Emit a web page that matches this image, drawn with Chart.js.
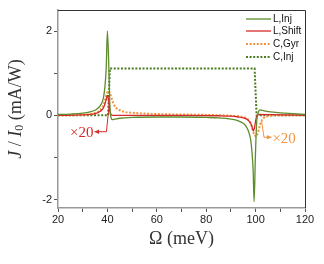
<!DOCTYPE html>
<html>
<head>
<meta charset="utf-8">
<script src="https://cdn.jsdelivr.net/npm/chart.js@4.4.0/dist/chart.umd.min.js"></script>
<style>
  html, body { margin: 0; padding: 0; background: #fff; }
  #wrap { width: 324px; height: 264px; }
</style>
</head>
<body>
<div id="wrap"><canvas id="chart"></canvas></div>
<script>
// Values (x in meV, y in mA/W)
const lInjX = [20, 25, 30, 33, 35, 36, 37, 38, 38.5, 39, 39.5, 40, 40.5, 41, 41.5, 42, 43, 45, 50, 60, 70, 80, 85, 90, 93, 95, 96, 97, 98, 98.5, 99, 99.4, 99.9, 100.4, 101, 101.8, 102.5, 104, 106, 110, 115, 120];
const lInjY = [0.02, 0.03, 0.05, 0.08, 0.12, 0.16, 0.22, 0.33, 0.45, 0.68, 1.1, 2.0, 1.3, 0.25, -0.06, -0.1, -0.09, -0.07, -0.05, -0.04, -0.04, -0.05, -0.06, -0.09, -0.13, -0.19, -0.25, -0.36, -0.58, -0.85, -1.3, -2.05, -1.0, -0.2, 0.05, 0.13, 0.12, 0.1, 0.08, 0.06, 0.04, 0.02];

const lShiftX = [20, 30, 34, 36, 37, 38, 38.5, 39, 39.5, 40, 40.5, 41, 41.5, 42, 50, 70, 85, 90, 93, 95, 96, 97, 98, 98.5, 99.1, 99.6, 100.1, 100.6, 101.2, 110, 120];
const lShiftY = [0.0, 0.01, 0.03, 0.06, 0.09, 0.14, 0.19, 0.27, 0.37, 0.47, 0.36, 0.1, 0.02, 0.0, 0.0, 0.0, -0.01, -0.02, -0.04, -0.06, -0.08, -0.12, -0.19, -0.26, -0.37, -0.28, -0.1, 0.0, 0.02, 0.01, 0.0];

const cGyrX = [20, 30, 34, 36, 37, 38, 38.5, 39, 39.5, 40, 40.5, 41, 41.5, 42, 42.5, 43.5, 45, 47, 50, 60, 80, 90, 94, 96, 97, 98, 98.5, 99, 99.5, 100.1, 100.6, 101.2, 101.8, 102.5, 103.5, 105, 110, 120];
const cGyrY = [0.0, 0.01, 0.04, 0.08, 0.12, 0.19, 0.26, 0.35, 0.46, 0.55, 0.58, 0.53, 0.44, 0.35, 0.27, 0.18, 0.12, 0.08, 0.06, 0.03, 0.01, -0.01, -0.03, -0.06, -0.1, -0.19, -0.28, -0.38, -0.46, -0.5, -0.46, -0.36, -0.22, -0.12, -0.05, -0.02, 0.0, 0.0];

const cInjX = [20, 40.3, 41.0, 99.6, 100.4, 120];
const cInjY = [0.0, 0.0, 1.11, 1.11, 0.0, 0.0];

const xTicks = [20, 30, 40, 50, 60, 70, 80, 90, 100, 110, 120];
const xLabels = [20, 40, 60, 80, 100, 120];
const yTicks = [-2, -1, 0, 1, 2];
const yLabels = [-2, 0, 2];

const seriesNames = ['L,Inj', 'L,Shift', 'C,Gyr', 'C,Inj'];

const GREEN = '#5e8c2c';
const DKGREEN = '#4a7d1e';
const RED = '#d42a2a';
const ORANGE = '#f39440';

function toPoints(xs, ys) {
  return xs.map((x, i) => ({ x, y: ys[i] }));
}

// Legend drawn inside the plot, top right
const legendPlugin = {
  id: 'insideLegend',
  afterDatasetsDraw(chart) {
    const ctx = chart.ctx;
    const rows = [19, 31, 44, 57];
    ctx.save();
    ctx.font = '10px "Liberation Sans", Arial, sans-serif';
    ctx.textBaseline = 'middle';
    chart.data.datasets.forEach((ds, i) => {
      const y = rows[i];
      ctx.strokeStyle = ds.borderColor;
      ctx.lineWidth = ds.borderWidth;
      ctx.setLineDash(ds.borderDash || []);
      ctx.beginPath();
      ctx.moveTo(246, y);
      ctx.lineTo(271, y);
      ctx.stroke();
      ctx.setLineDash([]);
      ctx.fillStyle = '#111';
      ctx.fillText(ds.label, 273, y + 0.5);
    });
    ctx.restore();
  }
};

// "x20" callouts with arrows, anchored in data coordinates
const calloutPlugin = {
  id: 'callouts',
  afterDatasetsDraw(chart) {
    const { ctx, scales: { x, y } } = chart;
    const callouts = [
      { color: RED, path: [[40.8, 0.3], [39.6, -0.39], [34.8, -0.39]], text: '\u00d720', align: 'right' },
      { color: ORANGE, path: [[102.4, -0.13], [103.4, -0.52], [106.4, -0.52]], text: '\u00d720', align: 'left' }
    ];
    ctx.save();
    callouts.forEach(c => {
      const pts = c.path.map(p => [x.getPixelForValue(p[0]), y.getPixelForValue(p[1])]);
      ctx.strokeStyle = c.color;
      ctx.fillStyle = c.color;
      ctx.lineWidth = 1;
      ctx.beginPath();
      ctx.moveTo(pts[0][0], pts[0][1]);
      for (let i = 1; i < pts.length; i++) ctx.lineTo(pts[i][0], pts[i][1]);
      ctx.stroke();
      // arrow head
      const [ex, ey] = pts[pts.length - 1];
      const [px, py] = pts[pts.length - 2];
      const ang = Math.atan2(ey - py, ex - px);
      ctx.beginPath();
      ctx.moveTo(ex, ey);
      ctx.lineTo(ex - 5 * Math.cos(ang - 0.45), ey - 5 * Math.sin(ang - 0.45));
      ctx.lineTo(ex - 5 * Math.cos(ang + 0.45), ey - 5 * Math.sin(ang + 0.45));
      ctx.closePath();
      ctx.fill();
      ctx.font = '15px "Liberation Serif", "Times New Roman", serif';
      ctx.textBaseline = 'middle';
      ctx.textAlign = c.align;
      ctx.fillText(c.text, c.align === 'right' ? ex - 1 : ex + 1, ey + 1.5);
    });
    ctx.restore();
  }
};

// Frame on top/right plus axis titles with mixed italic text
const framePlugin = {
  id: 'frame',
  afterDraw(chart) {
    const { ctx, chartArea: a } = chart;
    ctx.save();
    ctx.strokeStyle = '#333';
    ctx.lineWidth = 1;
    ctx.beginPath();
    ctx.moveTo(a.left, a.top + 0.5);
    ctx.lineTo(a.right + 0.5, a.top + 0.5);
    ctx.lineTo(a.right + 0.5, a.bottom);
    ctx.stroke();

    ctx.fillStyle = '#333';
    ctx.textBaseline = 'middle';
    // x title
    ctx.font = '18px "Liberation Serif", "Times New Roman", serif';
    ctx.textAlign = 'center';
    ctx.fillText('\u03a9 (meV)', (a.left + a.right) / 2, 239);

    // y title: J/I0 (mA/W)
    const it = 'italic 18px "Liberation Serif", "Times New Roman", serif';
    const up = '18px "Liberation Serif", "Times New Roman", serif';
    const sub = '12px "Liberation Serif", "Times New Roman", serif';
    const parts = [
      { t: 'J', f: it, dy: 0 },
      { t: ' / ', f: up, dy: 0 },
      { t: 'I', f: it, dy: 0 },
      { t: '0', f: sub, dy: 4 },
      { t: ' (mA/W)', f: up, dy: 0 }
    ];
    let total = 0;
    parts.forEach(p => { ctx.font = p.f; p.w = ctx.measureText(p.t).width; total += p.w; });
    ctx.translate(16, (a.top + a.bottom) / 2);
    ctx.rotate(-Math.PI / 2);
    ctx.textAlign = 'left';
    let cx = -total / 2;
    parts.forEach(p => {
      ctx.font = p.f;
      ctx.fillText(p.t, cx, p.dy);
      cx += p.w;
    });
    ctx.restore();
  }
};

new Chart(document.getElementById('chart'), {
  type: 'line',
  data: {
    datasets: [
      { label: seriesNames[0], data: toPoints(lInjX, lInjY), borderColor: GREEN, borderWidth: 1.3, cubicInterpolationMode: 'monotone' },
      { label: seriesNames[1], data: toPoints(lShiftX, lShiftY), borderColor: RED, borderWidth: 1.3, cubicInterpolationMode: 'monotone' },
      { label: seriesNames[2], data: toPoints(cGyrX, cGyrY), borderColor: ORANGE, borderWidth: 2, borderDash: [2, 1.6], cubicInterpolationMode: 'monotone' },
      { label: seriesNames[3], data: toPoints(cInjX, cInjY), borderColor: DKGREEN, borderWidth: 2, borderDash: [2, 1.6], tension: 0 }
    ]
  },
  options: {
    responsive: true,
    maintainAspectRatio: false,
    animation: false,
    layout: { padding: { left: 0, right: 19, top: 10, bottom: 0 } },
    elements: { point: { radius: 0 } },
    plugins: { legend: { display: false }, tooltip: { enabled: false } },
    scales: {
      x: {
        type: 'linear',
        min: 20,
        max: 120,
        afterBuildTicks: s => { s.ticks = xTicks.map(v => ({ value: v })); },
        afterFit: s => { s.height = 56; },
        ticks: {
          autoSkip: false,
          maxRotation: 0,
          padding: 1,
          color: '#222',
          font: { size: 11, family: '"Liberation Sans", Arial, sans-serif' },
          callback: v => (xLabels.includes(v) ? String(v) : '')
        },
        grid: { drawOnChartArea: false, tickLength: 4, color: '#555' },
        border: { color: '#999', width: 1.5 }
      },
      y: {
        type: 'linear',
        min: -2.2,
        max: 2.5,
        afterBuildTicks: s => { s.ticks = yTicks.map(v => ({ value: v })); },
        afterFit: s => { s.width = 58; },
        ticks: {
          autoSkip: false,
          padding: 2,
          color: '#222',
          font: { size: 11, family: '"Liberation Sans", Arial, sans-serif' },
          callback: v => (yLabels.includes(v) ? String(v) : '')
        },
        grid: { drawOnChartArea: false, tickLength: 4, color: '#555' },
        border: { color: '#999', width: 1.5 }
      }
    }
  },
  plugins: [legendPlugin, calloutPlugin, framePlugin]
});
</script>
</body>
</html>
